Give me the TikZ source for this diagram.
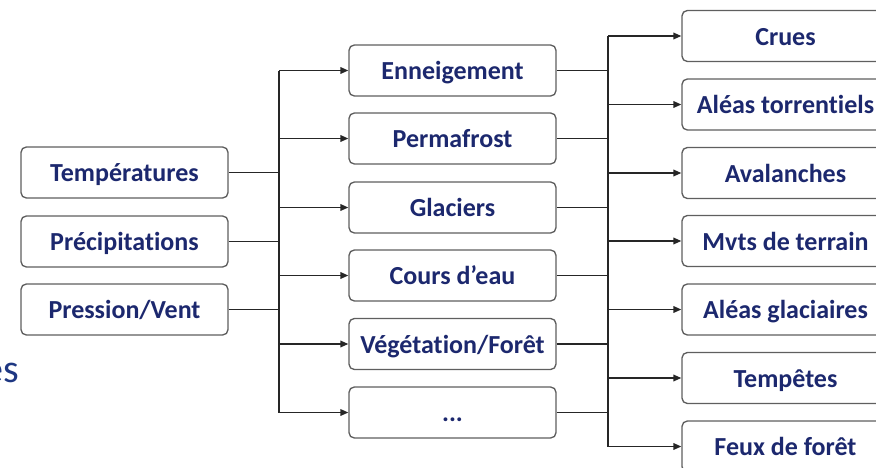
\documentclass[tikz,border=0pt]{standalone}
\usepackage{fontspec}
\setmainfont{Carlito}[Ligatures=NoCommon]
\usepackage{xcolor}
\usetikzlibrary{arrows.meta}

\definecolor{texte}{RGB}{28,40,110}
\definecolor{titre}{RGB}{30,55,130}
\definecolor{bord}{RGB}{95,95,95}

\tikzset{
  boite/.style={draw=bord, line width=1pt, rounded corners=4pt, fill=white,
    minimum width=155.25pt, minimum height=38.25pt, inner sep=0pt,
    text height=15.8pt, text depth=2pt,
    text=texte, font=\fontsize{19.5}{22}\selectfont\bfseries},
  ligne/.style={draw=black!85, line width=1.1pt},
  fleche/.style={ligne, -{Triangle[length=6pt,width=5pt]}}
}

\begin{document}
\begin{tikzpicture}[x=0.75pt,y=0.75pt,yscale=-1,xscale=1]

\useasboundingbox (0,0) rectangle (876,468);

% fragment de titre
\node (frag) [anchor=base east, inner sep=0pt, text=titre, font=\fontsize{30}{34}\selectfont] at (19,382) {es};

% facteurs climatiques
\node (temp) [boite] at (124.5,172.5) {Températures};
\node (prec) [boite] at (124.5,241.5) {Précipitations};
\node (vent) [boite] at (124.5,309.5) {Pression/Vent};

% milieux
\node (neige) [boite] at (452.5,70.5) {Enneigement};
\node (perma) [boite] at (452.5,138.5) {Permafrost};
\node (glac) [boite] at (452.5,207.5) {Glaciers};
\node (cours) [boite] at (452.5,275.5) {Cours d’eau};
\node (veget) [boite] at (452.5,344) {Végétation/Forêt};
\node (autre) [boite] at (452.5,412.5) {...};

% aléas
\node (crues) [boite] at (785.5,36) {Crues};
\node (torr) [boite] at (785.5,104.5) {Aléas torrentiels};
\node (aval) [boite] at (785.5,173) {Avalanches};
\node (mvts) [boite] at (785.5,241) {Mvts de terrain};
\node (glaci) [boite] at (785.5,309.5) {Aléas glaciaires};
\node (temp2) [boite] at (785.5,378) {Tempêtes};
\node (feux) [boite] at (785.5,446.5) {Feux de forêt};

% barres de liaison
\coordinate (bus1) at (279,70.5);
\coordinate (bus2) at (608,36);
\draw [ligne] (bus1) -- (autre.west -| bus1);
\draw [ligne] (bus2) -- (feux.west -| bus2);

% facteurs -> barre 1
\draw [ligne] (temp.east) -- (temp.east -| bus1);
\draw [ligne] (prec.east) -- (prec.east -| bus1);
\draw [ligne] (vent.east) -- (vent.east -| bus1);

% barre 1 -> milieux
\draw [fleche] (neige.west -| bus1) -- (neige.west);
\draw [fleche] (perma.west -| bus1) -- (perma.west);
\draw [fleche] (glac.west -| bus1) -- (glac.west);
\draw [fleche] (cours.west -| bus1) -- (cours.west);
\draw [fleche] (veget.west -| bus1) -- (veget.west);
\draw [fleche] (autre.west -| bus1) -- (autre.west);

% milieux -> barre 2
\draw [ligne] (neige.east) -- (neige.east -| bus2);
\draw [ligne] (perma.east) -- (perma.east -| bus2);
\draw [ligne] (glac.east) -- (glac.east -| bus2);
\draw [ligne] (cours.east) -- (cours.east -| bus2);
\draw [ligne] (veget.east) -- (veget.east -| bus2);
\draw [ligne] (autre.east) -- (autre.east -| bus2);

% barre 2 -> aléas
\draw [fleche] (crues.west -| bus2) -- (crues.west);
\draw [fleche] (torr.west -| bus2) -- (torr.west);
\draw [fleche] (aval.west -| bus2) -- (aval.west);
\draw [fleche] (mvts.west -| bus2) -- (mvts.west);
\draw [fleche] (glaci.west -| bus2) -- (glaci.west);
\draw [fleche] (temp2.west -| bus2) -- (temp2.west);
\draw [fleche] (feux.west -| bus2) -- (feux.west);

\end{tikzpicture}
\end{document}
